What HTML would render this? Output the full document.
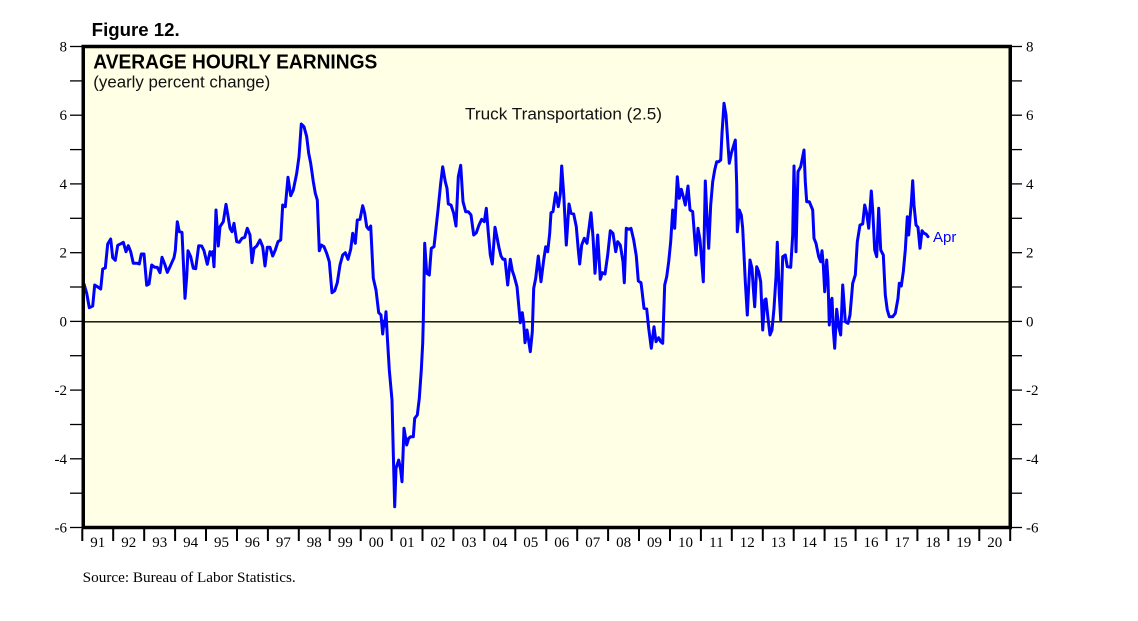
<!DOCTYPE html>
<html>
<head>
<meta charset="utf-8">
<style>
  html, body { margin: 0; padding: 0; background: #ffffff; }
  svg { display: block; }
  .sans { font-family: "Liberation Sans", Arial, sans-serif; }
  .serif { font-family: "Liberation Serif", "Times New Roman", serif; }
</style>
</head>
<body>
<svg width="1138" height="621" viewBox="0 0 1138 621" xmlns="http://www.w3.org/2000/svg">
  <rect x="0" y="0" width="1138" height="621" fill="#ffffff"/>

  <!-- Figure label -->
  <text x="91.7" y="36" class="sans" font-size="18" font-weight="bold" fill="#000" textLength="88" lengthAdjust="spacingAndGlyphs">Figure 12.</text>

  <!-- Plot frame fill -->
  <rect x="83.25" y="46.5" width="927" height="481" fill="#FFFFE5"/>

  <!-- Titles -->
  <text x="93.3" y="68.5" class="sans" font-size="20" font-weight="bold" fill="#000" textLength="284" lengthAdjust="spacingAndGlyphs">AVERAGE HOURLY EARNINGS</text>
  <text x="93.3" y="87.3" class="sans" font-size="16.5" fill="#111" textLength="177" lengthAdjust="spacingAndGlyphs">(yearly percent change)</text>
  <text x="465" y="119.7" class="sans" font-size="17" fill="#111" textLength="197" lengthAdjust="spacingAndGlyphs">Truck Transportation (2.5)</text>

  <!-- Zero line -->
  <line x1="84" y1="321.8" x2="1010" y2="321.8" stroke="#000" stroke-width="1.3"/>

  <!-- Data series -->
  <polyline fill="none" stroke="#0000FF" stroke-width="3" stroke-linejoin="round" stroke-linecap="round" points="
84,284 86.7,293.3 89.3,307.7 92.7,306 94.7,285 98.3,287.3 100.7,289 102.7,269 105.3,268 107.7,244 110.7,239 112.7,257.7 115.3,260.3 117.7,245.3 121.7,243.3 123.3,242.3 126,251.7 128.3,245.7 130.7,251.7 133.3,263.3 137.3,263.3 139.3,264 141.3,254 144,254 146.7,285.3 149,284 151.7,265 154.7,267.3 157.3,267.3 160,272.7 162,257.3 164.7,264 167.3,272.3 170,266.7 174,257.7 175.3,250.7 177.3,221.7 179.3,231.7 182,232.3 185,298.3 186.7,276.7 188,250.7 190.7,256.7 193.3,268.3 195.7,268.7 198.7,245.7 201.7,246 204,250.7 207.3,264.3 210,251.7 211.3,255 212.7,251.7 214,266.7 216,210 218.3,246 220,226.7 223.3,221.7 226,204.3 228,216 230,228.3 232,231.7 234,223.3 236.7,241.7 239.3,242.3 242,238.3 244.7,237.3 247.3,228.3 250,235
252,262.7 254,248.3 256.7,246 260,240 262.7,246.7 265,266 267.3,247.3 270,247.3 272.7,256 275.3,250 278,241.7 280.7,240 282.7,205 285.3,206.7 288,177.3 290.7,195.7 293.3,190 296.7,173.3 299,156.7 301.3,124 304,126.7 306.7,136.7 308.7,153.3 310.7,163.3 313.3,181.7 315.3,193.3 317.3,200 319.3,250.7 321.3,245 324,246.7 326.7,253.3 329.3,261.7 332,292.7 334.7,290.7 337.3,282.7 340,265 342.7,255 345.3,252.7 348,259.3 350.7,249.3 352.7,233.3 355.3,243.3 357.3,220 360,219.3 362.7,205.7 364.7,213.3 366.7,226.7 368.7,229.3 370.7,226 373.3,278.3 376,290 378.7,312.7 381,315 382.7,334 384,321 384.7,326 386,311.7 387.3,336.7 389.3,370 392,400 393.3,453.3 394.7,506.7 396,468.3 398.7,460 400.7,470 402,481.7 404,428.3 406.7,445 408.7,438.3 410.7,436.7 413.3,436.7 414.7,418.3 417.3,415 419.3,398.3 421.3,370 422.7,343.3 423.3,320 424.7,243.3 426.7,273.3 429.3,275 431.3,248.3 434,246.7 436,228.3 438,210 440.7,183.3 442.7,166.7 445.3,181.7
447,188.3 448.3,204 451,205 453.7,213.3 456,226 458.3,176.7 460.7,165.3 463,201.7 465.7,211.7 468.3,211.7 471,215 473.7,235 476.3,232.7 479,225 481.7,219.3 484.3,221.7 486.3,208.3 488.3,232.7 490.3,255 492.3,264 495,227.3 497,237.3 499,247.7 501,256 503,259.3 505,259.3 507.7,285 510.3,259.3 512.3,270.7 514.3,276.7 517,286.7 519,308.3 520.3,322.7 522.3,312.7 523.7,323.3 525,342.7 527,330 528.3,338.3 530.3,351.7 532.3,331.7 533.7,288.3 535.7,278.3 538.3,256 541,281.7 543.7,260 545.7,246.7 547.7,251.7 549.7,233.3 551,212.7 553,211.7 555.7,192.7 558.3,206.7 560.3,194 561.7,166 563.7,194 566.3,245 569,204 571,213.3 573.7,214 576.3,226.7 578.3,250 579.7,264 581.7,245 584.3,238.3 587,243.3 589,228.3 591,212.7 593,236.7 595,273.3 597.7,235 600.3,279.3 602.3,272.7 605,274 607.7,255 610.3,230.7 613,233.3 615.7,251.7 617.7,241.7 620.3,245 623,261.7 624.3,282.7 626.3,228.3 629,229.3 631,228.3 633.7,240 636.3,256 638.3,281 641,282.7 642.3,293.3 644,308.3
646.7,309 648.7,328.3 651.3,348.3 654,326.7 656,341.7 658.7,337.7 660.7,341.7 662.7,343.3 664.7,285 666.7,276.7 668.7,261.7 670.7,241.7 672.7,210 674.7,228.3 677.3,176.7 679.3,198.3 681.3,189.3 683.3,196.7 685.3,205 688,186 690,210 692.7,211.7 694.7,238.3 696,255 698,228.3 700,240 702,265 703.3,281.7 705.3,181 706.7,211.7 708.7,248.3 710.7,205 712.7,181.7 714.7,170 716.7,161.7 718.7,161.7 720.7,160 722,133.3 724,103.3 726,115 728,145 729.3,163.3 731.3,153.3 733.3,146.7 735.3,140 736.7,185 737.3,231.7 739.3,210 741.3,215 742.7,228.3 745.3,281.7 747.3,315 750,260 752,268.3 753.3,288.3 754.7,306.7 756.7,266.7 758.7,271.7 760.7,281.7 762.7,330 764.7,300 766,299 768,318.3 770,335 772,330 774,308.3 776,276.7 777.3,242.3 779.3,295 780.7,320 782.7,256.7 785.3,255 787.3,266.7 790.7,267.3 792.7,235 794,166 796,251.7 798,171.7 800.7,166.7 802.7,156.7 804,150 805.3,181.7 806.7,201.7 809.3,201.7
812.7,210 814,238.3 816,243.3 818.7,256.7 820.7,261.7 822,250.7 823.3,265 824.7,291.7 826.7,260 828,280 829.3,325 830.7,301.7 832,298.3 833.3,330 834.7,348.3 836.7,309.3 838.7,326.7 840.7,335 842.7,285 844,302.7 845.3,321.7 848,323.3 850,315 852.7,283.3 855.3,275 857.3,241.7 860,225 862.7,224 864.7,205 866.7,213.3 868.7,228.3 871.3,191 872.7,210 874.7,250 876.7,256.7 878.7,208.3 880.7,250 883.3,255 885.3,295 887.3,310 889.3,316.7 892.7,316.7 895.3,313.3 898,298.3 899.3,283.3 901.3,286 903.3,271.7 905.3,250 907.3,216.7 908.7,235 910,218.3 911.3,203.3 912.7,180.7 914,205 916,225 918,227.3 920,248.3 922,230.7 924,233.3 926,234 928,236.7"/>

  <!-- Apr label -->
  <text x="933" y="242" class="sans" font-size="15" fill="#0000FF">Apr</text>

  <!-- Frame border -->
  <rect x="83.25" y="46.5" width="927" height="481" fill="none" stroke="#000" stroke-width="3.5"/>

  <!-- Y ticks left & right -->
  <g stroke="#000" stroke-width="1.3">
    <line x1="70" y1="46.5" x2="82" y2="46.5"/><line x1="1012" y1="46.5" x2="1022" y2="46.5"/>
    <line x1="70" y1="80.9" x2="82" y2="80.9"/><line x1="1012" y1="80.9" x2="1022" y2="80.9"/>
    <line x1="70" y1="115.2" x2="82" y2="115.2"/><line x1="1012" y1="115.2" x2="1022" y2="115.2"/>
    <line x1="70" y1="149.6" x2="82" y2="149.6"/><line x1="1012" y1="149.6" x2="1022" y2="149.6"/>
    <line x1="70" y1="183.9" x2="82" y2="183.9"/><line x1="1012" y1="183.9" x2="1022" y2="183.9"/>
    <line x1="70" y1="218.3" x2="82" y2="218.3"/><line x1="1012" y1="218.3" x2="1022" y2="218.3"/>
    <line x1="70" y1="252.7" x2="82" y2="252.7"/><line x1="1012" y1="252.7" x2="1022" y2="252.7"/>
    <line x1="70" y1="287.0" x2="82" y2="287.0"/><line x1="1012" y1="287.0" x2="1022" y2="287.0"/>
    <line x1="70" y1="321.4" x2="82" y2="321.4"/><line x1="1012" y1="321.4" x2="1022" y2="321.4"/>
    <line x1="70" y1="355.7" x2="82" y2="355.7"/><line x1="1012" y1="355.7" x2="1022" y2="355.7"/>
    <line x1="70" y1="390.1" x2="82" y2="390.1"/><line x1="1012" y1="390.1" x2="1022" y2="390.1"/>
    <line x1="70" y1="424.5" x2="82" y2="424.5"/><line x1="1012" y1="424.5" x2="1022" y2="424.5"/>
    <line x1="70" y1="458.8" x2="82" y2="458.8"/><line x1="1012" y1="458.8" x2="1022" y2="458.8"/>
    <line x1="70" y1="493.2" x2="82" y2="493.2"/><line x1="1012" y1="493.2" x2="1022" y2="493.2"/>
    <line x1="70" y1="527.5" x2="82" y2="527.5"/><line x1="1012" y1="527.5" x2="1022" y2="527.5"/>
  </g>

  <!-- Y labels -->
  <g class="serif" font-size="15" fill="#000" text-anchor="end">
    <text x="67" y="51.5">8</text>
    <text x="67" y="120.2">6</text>
    <text x="67" y="188.9">4</text>
    <text x="67" y="257.7">2</text>
    <text x="67" y="326.4">0</text>
    <text x="67" y="395.1">-2</text>
    <text x="67" y="463.8">-4</text>
    <text x="67" y="532.5">-6</text>
  </g>
  <g class="serif" font-size="15" fill="#000" text-anchor="start">
    <text x="1026" y="51.5">8</text>
    <text x="1026" y="120.2">6</text>
    <text x="1026" y="188.9">4</text>
    <text x="1026" y="257.7">2</text>
    <text x="1026" y="326.4">0</text>
    <text x="1026" y="395.1">-2</text>
    <text x="1026" y="463.8">-4</text>
    <text x="1026" y="532.5">-6</text>
  </g>

  <!-- X ticks -->
  <g stroke="#000" stroke-width="2">
    <line x1="82.3" y1="529" x2="82.3" y2="541"/>
    <line x1="113.2" y1="529" x2="113.2" y2="541"/>
    <line x1="144.2" y1="529" x2="144.2" y2="541"/>
    <line x1="175.1" y1="529" x2="175.1" y2="541"/>
    <line x1="206.0" y1="529" x2="206.0" y2="541"/>
    <line x1="237.0" y1="529" x2="237.0" y2="541"/>
    <line x1="267.9" y1="529" x2="267.9" y2="541"/>
    <line x1="298.8" y1="529" x2="298.8" y2="541"/>
    <line x1="329.7" y1="529" x2="329.7" y2="541"/>
    <line x1="360.7" y1="529" x2="360.7" y2="541"/>
    <line x1="391.6" y1="529" x2="391.6" y2="541"/>
    <line x1="422.5" y1="529" x2="422.5" y2="541"/>
    <line x1="453.5" y1="529" x2="453.5" y2="541"/>
    <line x1="484.4" y1="529" x2="484.4" y2="541"/>
    <line x1="515.3" y1="529" x2="515.3" y2="541"/>
    <line x1="546.3" y1="529" x2="546.3" y2="541"/>
    <line x1="577.2" y1="529" x2="577.2" y2="541"/>
    <line x1="608.1" y1="529" x2="608.1" y2="541"/>
    <line x1="639.0" y1="529" x2="639.0" y2="541"/>
    <line x1="670.0" y1="529" x2="670.0" y2="541"/>
    <line x1="700.9" y1="529" x2="700.9" y2="541"/>
    <line x1="731.8" y1="529" x2="731.8" y2="541"/>
    <line x1="762.8" y1="529" x2="762.8" y2="541"/>
    <line x1="793.7" y1="529" x2="793.7" y2="541"/>
    <line x1="824.6" y1="529" x2="824.6" y2="541"/>
    <line x1="855.6" y1="529" x2="855.6" y2="541"/>
    <line x1="886.5" y1="529" x2="886.5" y2="541"/>
    <line x1="917.4" y1="529" x2="917.4" y2="541"/>
    <line x1="948.3" y1="529" x2="948.3" y2="541"/>
    <line x1="979.3" y1="529" x2="979.3" y2="541"/>
    <line x1="1010.2" y1="529" x2="1010.2" y2="541"/>
  </g>

  <!-- X labels -->
  <g class="serif" font-size="15" fill="#000" text-anchor="middle">
    <text x="97.8" y="547">91</text>
    <text x="128.7" y="547">92</text>
    <text x="159.7" y="547">93</text>
    <text x="190.6" y="547">94</text>
    <text x="221.5" y="547">95</text>
    <text x="252.4" y="547">96</text>
    <text x="283.4" y="547">97</text>
    <text x="314.3" y="547">98</text>
    <text x="345.2" y="547">99</text>
    <text x="376.2" y="547">00</text>
    <text x="407.1" y="547">01</text>
    <text x="438.0" y="547">02</text>
    <text x="469.0" y="547">03</text>
    <text x="499.9" y="547">04</text>
    <text x="530.8" y="547">05</text>
    <text x="561.7" y="547">06</text>
    <text x="592.7" y="547">07</text>
    <text x="623.6" y="547">08</text>
    <text x="654.5" y="547">09</text>
    <text x="685.5" y="547">10</text>
    <text x="716.4" y="547">11</text>
    <text x="747.3" y="547">12</text>
    <text x="778.2" y="547">13</text>
    <text x="809.2" y="547">14</text>
    <text x="840.1" y="547">15</text>
    <text x="871.0" y="547">16</text>
    <text x="902.0" y="547">17</text>
    <text x="932.9" y="547">18</text>
    <text x="963.8" y="547">19</text>
    <text x="994.8" y="547">20</text>
  </g>

  <!-- Source -->
  <text x="82.7" y="582" class="serif" font-size="15" fill="#000" textLength="213" lengthAdjust="spacingAndGlyphs">Source: Bureau of Labor Statistics.</text>
</svg>
</body>
</html>
